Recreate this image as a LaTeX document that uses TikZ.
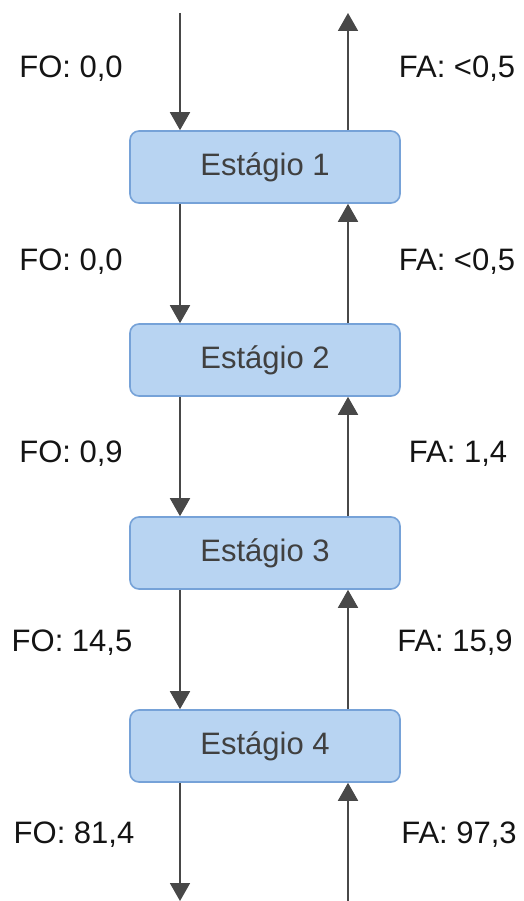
\documentclass[tikz,border=0pt]{standalone}
\usepackage{fontspec}
\setmainfont{Liberation Sans}
\usetikzlibrary{arrows.meta}
\definecolor{boxfill}{RGB}{184,212,242}
\definecolor{boxdraw}{RGB}{118,162,216}
\definecolor{arrowcol}{RGB}{72,72,72}
\definecolor{stagetext}{RGB}{64,64,64}
\begin{document}
\begin{tikzpicture}[x=1pt,y=-1pt,
  stagebox/.style={draw=boxdraw,fill=boxfill,line width=1.6pt,rounded corners=9pt,
    minimum width=270pt,minimum height=72pt,inner sep=0pt,text=stagetext,
    font=\fontsize{31}{36}\selectfont},
  flowlabel/.style={inner sep=0pt,text=black!92,font=\fontsize{31}{36}\selectfont},
  flow/.style={draw=arrowcol,line width=1.8pt,-{Triangle[width=20pt,length=18pt]}}]
\useasboundingbox (0,0) rectangle (524,901);
\fill[white] (0,0) rectangle (524,901);
\node[stagebox] (s1) at (265,167) {Estágio 1};
\node[stagebox] (s2) at (265,360) {Estágio 2};
\node[stagebox] (s3) at (265,553) {Estágio 3};
\node[stagebox] (s4) at (265,746) {Estágio 4};
\coordinate (tl) at (180,13);
\coordinate (tr) at (348,13);
\coordinate (bl) at (180,901);
\coordinate (br) at (348,901);
\draw[flow] (tl) -- (tl |- s1.north);
\draw[flow] (tr |- s1.north) -- (tr);
\draw[flow] (tl |- s1.south) -- (tl |- s2.north);
\draw[flow] (tr |- s2.north) -- (tr |- s1.south);
\draw[flow] (tl |- s2.south) -- (tl |- s3.north);
\draw[flow] (tr |- s3.north) -- (tr |- s2.south);
\draw[flow] (tl |- s3.south) -- (tl |- s4.north);
\draw[flow] (tr |- s4.north) -- (tr |- s3.south);
\draw[flow] (tl |- s4.south) -- (bl);
\draw[flow] (br) -- (tr |- s4.south);
\node[flowlabel] (fo1) at (71,69) {FO: 0,0};
\node[flowlabel] (fo2) at (71,262) {FO: 0,0};
\node[flowlabel] (fo3) at (71,454) {FO: 0,9};
\node[flowlabel] (fo4) at (72,643) {FO: 14,5};
\node[flowlabel] (fo5) at (74,835) {FO: 81,4};
\node[flowlabel] (fa1) at (457,69) {FA: <0,5};
\node[flowlabel] (fa2) at (457,262) {FA: <0,5};
\node[flowlabel] (fa3) at (458,454) {FA: 1,4};
\node[flowlabel] (fa4) at (455,643) {FA: 15,9};
\node[flowlabel] (fa5) at (459,835) {FA: 97,3};
\end{tikzpicture}
\end{document}
